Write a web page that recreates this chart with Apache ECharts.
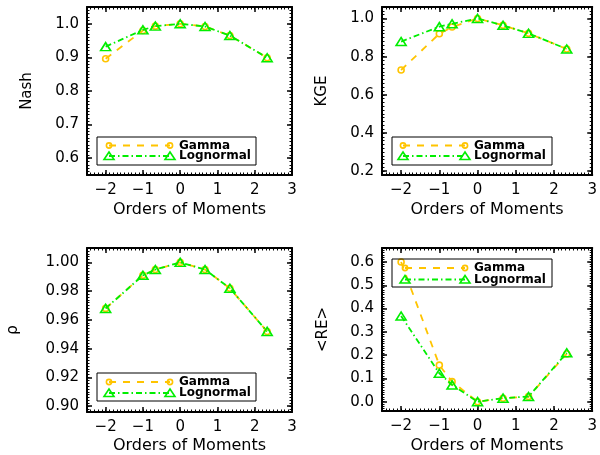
<!DOCTYPE html>
<html>
<head>
<meta charset="utf-8">
<script src="https://cdn.jsdelivr.net/npm/echarts@6/dist/echarts.min.js"></script>
<style>
html, body { margin: 0; padding: 0; background: #fff; }
#chart { width: 600px; height: 455px; }
</style>
</head>
<body>
<div id="chart"></div>
<script>
// Orders of moments on the x axis
const orders = [-2, -1, -2 / 3, 0, 2 / 3, 4 / 3, 7 / 3];

// Nash-Sutcliffe efficiency
const nashGamma = [0.896, 0.980, 0.993, 1.000, 0.992, 0.965, 0.899];
const nashLognormal = [0.932, 0.982, 0.993, 1.000, 0.992, 0.965, 0.899];
// Kling-Gupta efficiency
const kgeGamma = [0.730, 0.920, 0.955, 1.000, 0.964, 0.922, 0.840];
const kgeLognormal = [0.879, 0.957, 0.972, 1.000, 0.964, 0.922, 0.840];
// Correlation coefficient
const rhoGamma = [0.968, 0.991, 0.995, 1.000, 0.995, 0.982, 0.952];
const rhoLognormal = [0.968, 0.991, 0.995, 1.000, 0.995, 0.982, 0.952];
// Mean relative error
const reGamma = [0.600, 0.157, 0.086, 0.000, 0.015, 0.022, 0.205];
const reLognormal = [0.368, 0.122, 0.072, 0.000, 0.015, 0.022, 0.210];

// Tick labels
const xTicks = [-2, -1, 0, 1, 2, 3];
const nashTicks = [0.6, 0.7, 0.8, 0.9, 1.0];
const kgeTicks = [0.2, 0.4, 0.6, 0.8, 1.0];
const rhoTicks = [0.90, 0.92, 0.94, 0.96, 0.98, 1.00];
const reTicks = [0.0, 0.1, 0.2, 0.3, 0.4, 0.5, 0.6];

const GOLD = '#FFC400';
const GREEN = '#00EE00';
const FONT = 'DejaVu Sans';
const GAMMA_DASH = [7, 7];
const LOGN_DASH = [6, 3, 1.5, 3];

const panels = [
  { grid: { left: 87, top: 7, width: 205, height: 168 },
    name: 'Nash', nameGap: 52, yMin: 0.55, yMax: 1.05, yMinor: 0.01, ticks: nashTicks, dec: 1,
    gamma: nashGamma, logn: nashLognormal, xNameGap: 27,
    legend: { x: 97, y: 137, w: 159, h: 28, r1: 145.5, r2: 156, l0: 109, l1: 170, tx: 179 } },
  { grid: { left: 382, top: 7, width: 211, height: 168 },
    name: 'KGE', nameGap: 52, yMin: 0.18, yMax: 1.06, yMinor: 0.02, ticks: kgeTicks, dec: 1,
    gamma: kgeGamma, logn: kgeLognormal, xNameGap: 27,
    legend: { x: 392, y: 137, w: 160, h: 28, r1: 145.5, r2: 156, l0: 403, l1: 465, tx: 474 } },
  { grid: { left: 87, top: 248, width: 205, height: 165 },
    name: 'ρ', nameGap: 66, yMin: 0.896, yMax: 1.01, yMinor: 0.002, ticks: rhoTicks, dec: 2,
    gamma: rhoGamma, logn: rhoLognormal, xNameGap: 26,
    legend: { x: 97, y: 373, w: 159, h: 28, r1: 382, r2: 393, l0: 109, l1: 170, tx: 179 } },
  { grid: { left: 382, top: 248, width: 211, height: 164 },
    name: '<RE>', nameGap: 51, yMin: -0.04, yMax: 0.66, yMinor: 0.01, ticks: reTicks, dec: 1,
    gamma: reGamma, logn: reLognormal, xNameGap: 27,
    legend: { x: 392, y: 259, w: 160, h: 28, r1: 268, r2: 279.5, l0: 405, l1: 465, tx: 474 } }
];

const fmtX = v => (v < 0 ? '\u2212' + Math.abs(v) : String(v));

const grids = [], xAxes = [], yAxes = [], series = [], graphics = [];

function majorAxis(gi, pos, min, max, ticks, labels, fmt, extra) {
  return Object.assign({
    type: 'value', gridIndex: gi, position: pos, min: min, max: max,
    axisLine: { show: true, onZero: false, lineStyle: { color: '#000', width: 2 } },
    axisTick: { show: true, inside: true, length: 5, customValues: ticks, lineStyle: { color: '#000', width: 1.5 } },
    axisLabel: labels ? {
      show: true, customValues: ticks, formatter: fmt, color: '#000',
      fontFamily: FONT, fontSize: 15, margin: 8, showMinLabel: true, showMaxLabel: true
    } : { show: false },
    splitLine: { show: false },
    minorTick: { show: false }
  }, extra || {});
}

function minorAxis(gi, pos, min, max, step) {
  return {
    type: 'value', gridIndex: gi, position: pos, min: min, max: max, interval: step,
    axisLine: { show: false, onZero: false },
    axisTick: { show: true, inside: true, length: 2.5, lineStyle: { color: '#000', width: 1 } },
    axisLabel: { show: false },
    splitLine: { show: false }
  };
}

panels.forEach((p, gi) => {
  grids.push(Object.assign({ containLabel: false }, p.grid));
  const fmtY = v => v.toFixed(p.dec);

  const xMain = xAxes.length;
  xAxes.push(majorAxis(gi, 'bottom', -2.5, 3, xTicks, true, fmtX, {
    name: 'Orders of Moments', nameLocation: 'middle', nameGap: p.xNameGap,
    nameTextStyle: { fontFamily: FONT, fontSize: 16, color: '#000' }
  }));
  xAxes.push(minorAxis(gi, 'bottom', -2.5, 3, 0.1));
  xAxes.push(majorAxis(gi, 'top', -2.5, 3, xTicks, false));
  xAxes.push(minorAxis(gi, 'top', -2.5, 3, 0.1));

  const yMain = yAxes.length;
  yAxes.push(majorAxis(gi, 'left', p.yMin, p.yMax, p.ticks, true, fmtY, {
    name: p.name, nameLocation: 'middle', nameGap: p.nameGap, nameRotate: 90,
    nameTextStyle: { fontFamily: FONT, fontSize: 15, color: '#000' }
  }));
  yAxes.push(minorAxis(gi, 'left', p.yMin, p.yMax, p.yMinor));
  yAxes.push(majorAxis(gi, 'right', p.yMin, p.yMax, p.ticks, false));
  yAxes.push(minorAxis(gi, 'right', p.yMin, p.yMax, p.yMinor));

  series.push({
    type: 'line', name: 'Gamma', xAxisIndex: xMain, yAxisIndex: yMain,
    data: orders.map((x, i) => [x, p.gamma[i]]),
    symbol: 'circle', symbolSize: 6, clip: false,
    itemStyle: { color: 'rgba(0,0,0,0)', borderColor: GOLD, borderWidth: 1.6 },
    lineStyle: { color: GOLD, width: 1.8, type: GAMMA_DASH },
    z: 3
  });
  series.push({
    type: 'line', name: 'Lognormal', xAxisIndex: xMain, yAxisIndex: yMain,
    data: orders.map((x, i) => [x, p.logn[i]]),
    symbol: 'triangle', symbolSize: [10, 8], clip: false,
    itemStyle: { color: 'rgba(0,0,0,0)', borderColor: GREEN, borderWidth: 1.6 },
    lineStyle: { color: GREEN, width: 1.8, type: LOGN_DASH },
    z: 4
  });

  // Legend box with sample lines and end markers
  const L = p.legend;
  graphics.push({ type: 'rect', shape: { x: L.x, y: L.y, width: L.w, height: L.h },
    style: { fill: 'none', stroke: '#000', lineWidth: 1 }, z: 10 });
  graphics.push({ type: 'line', shape: { x1: L.l0, y1: L.r1, x2: L.l1, y2: L.r1 },
    style: { stroke: GOLD, lineWidth: 1.8, lineDash: GAMMA_DASH }, z: 10 });
  [L.l0, L.l1].forEach(cx => graphics.push({ type: 'circle', shape: { cx: cx, cy: L.r1, r: 2.6 },
    style: { fill: 'none', stroke: GOLD, lineWidth: 1.6 }, z: 11 }));
  graphics.push({ type: 'line', shape: { x1: L.l0, y1: L.r2, x2: L.l1, y2: L.r2 },
    style: { stroke: GREEN, lineWidth: 1.8, lineDash: LOGN_DASH }, z: 10 });
  [L.l0, L.l1].forEach(cx => graphics.push({ type: 'polygon',
    shape: { points: [[cx - 5, L.r2 + 3.5], [cx + 5, L.r2 + 3.5], [cx, L.r2 - 4]] },
    style: { fill: 'none', stroke: GREEN, lineWidth: 1.6 }, z: 11 }));
  graphics.push({ type: 'text', x: L.tx, y: L.r1, z: 11,
    style: { text: 'Gamma', fill: '#000', font: 'bold 12px "DejaVu Sans"', verticalAlign: 'middle' } });
  graphics.push({ type: 'text', x: L.tx, y: L.r2, z: 11,
    style: { text: 'Lognormal', fill: '#000', font: 'bold 12px "DejaVu Sans"', verticalAlign: 'middle' } });
});

const chart = echarts.init(document.getElementById('chart'), null, { renderer: 'canvas' });
chart.setOption({
  animation: false,
  backgroundColor: '#fff',
  grid: grids,
  xAxis: xAxes,
  yAxis: yAxes,
  series: series,
  graphic: graphics
});
</script>
</body>
</html>
